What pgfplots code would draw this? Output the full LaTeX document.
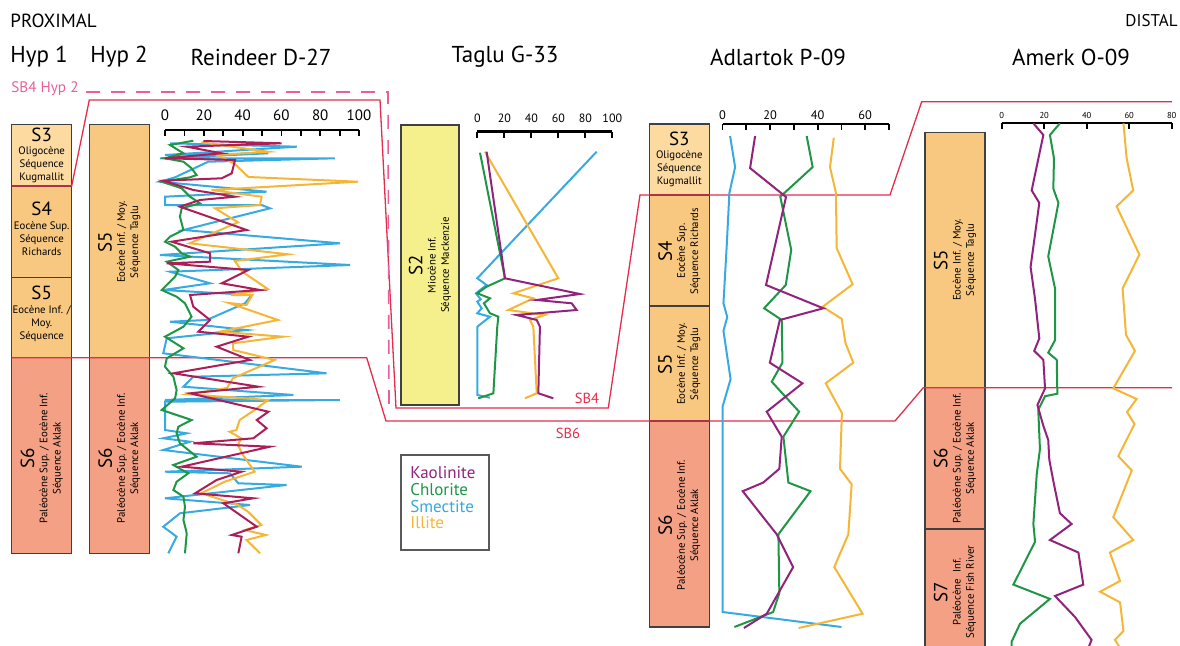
\documentclass[border=0pt]{standalone}
\usepackage{pgfplots}
\pgfplotsset{compat=1.18}
\usepackage{fontspec}
\setmainfont{PT Sans}
\definecolor{kaoR}{RGB}{172,30,88}
\definecolor{kao}{RGB}{145,35,125}
\definecolor{chl}{RGB}{30,150,70}
\definecolor{sme}{RGB}{55,170,225}
\definecolor{ill}{RGB}{245,182,55}
\definecolor{sbred}{RGB}{228,45,75}
\definecolor{sbpink}{RGB}{232,95,155}
\definecolor{sA}{RGB}{252,218,160}
\definecolor{sB}{RGB}{249,200,128}
\definecolor{sC}{RGB}{243,160,132}
\definecolor{sY}{RGB}{246,240,140}
\newcommand{\Sfont}{\fontsize{9.5}{10.5}\selectfont}
\newcommand{\sfont}{\fontsize{5.4}{6.6}\selectfont}
\pgfplotsset{well/.style={scale only axis, anchor=north west,
  axis x line=top, axis y line=none,
  axis line style={-,line width=1.3pt,black},
  x tick style={line width=0.9pt,black},
  tick align=inside, major tick length=3pt, minor tick length=3pt,
  y dir=reverse, clip=false,
  /pgf/number format/assume math mode=true,
  every axis plot/.append style={line width=1pt, no markers}}}
\begin{document}
\begin{tikzpicture}
\useasboundingbox (0,0) rectangle (590pt,-323pt);
\begin{scope}[x=0.5pt,y=-0.5pt]
\tikzset{col/.style={draw=black!75, line width=0.6pt}}
% Hyp 1
\filldraw[col,fill=sA] (11.7,124.3) rectangle (71.7,186);
\filldraw[col,fill=sB] (11.7,186) rectangle (71.7,277.3);
\filldraw[col,fill=sB] (11.7,277.3) rectangle (71.7,357.7);
\filldraw[col,fill=sC] (11.7,357.7) rectangle (71.7,553.3);
% Hyp 2
\filldraw[col,fill=sB] (89.3,124.3) rectangle (149.3,357.7);
\filldraw[col,fill=sC] (89.3,357.7) rectangle (149.3,553.3);
% Taglu
\filldraw[col,fill=sY] (401,125) rectangle (459,405);
% Adlartok
\filldraw[col,fill=sA] (649.3,124) rectangle (709.3,195);
\filldraw[col,fill=sB] (649.3,195) rectangle (709.3,306);
\filldraw[col,fill=sB] (649.3,306) rectangle (709.3,421);
\filldraw[col,fill=sC] (649.3,421) rectangle (709.3,627);
% Amerk
\filldraw[col,fill=sB] (925,132.7) rectangle (985,387.7);
\filldraw[col,fill=sC] (925,387.7) rectangle (985,529);
\filldraw[col,fill=sC] (925,529) rectangle (985,680);
% column texts
\node[align=center,font=\sfont,inner sep=0] at (41.7,155.5) {{\Sfont S3}\\Oligocène\\Séquence\\Kugmallit};
\node[align=center,font=\sfont,inner sep=0] at (41.7,229) {{\Sfont S4}\\Eocène Sup.\\Séquence\\Richards};
\node[align=center,font=\sfont,inner sep=0] at (41.7,314) {{\Sfont S5}\\Eocène Inf. /\\Moy.\\Séquence};
\node[rotate=90,align=center,font=\sfont,inner sep=0] at (41.7,458) {{\Sfont S6}\\Paléocène Sup. / Eocène Inf.\\Séquence Aklak};
\node[rotate=90,align=center,font=\sfont,inner sep=0] at (119.3,242) {{\Sfont S5}\\Eocène Inf. / Moy.\\Séquence Taglu};
\node[rotate=90,align=center,font=\sfont,inner sep=0] at (119.3,458) {{\Sfont S6}\\Paléocène Sup. / Eocène Inf.\\Séquence Aklak};
\node[rotate=90,align=center,font=\sfont,inner sep=0] at (430,265) {{\Sfont S2}\\Miocène Inf.\\Séquence Mackenzie};
\node[align=center,font=\sfont,inner sep=0] at (679.3,159.5) {{\Sfont S3}\\Oligocène\\Séquence\\Kugmallit};
\node[rotate=90,align=center,font=\sfont,inner sep=0] at (679.3,251) {{\Sfont S4}\\Eocène Sup.\\Séquence Richards};
\node[rotate=90,align=center,font=\sfont,inner sep=0] at (679.3,364) {{\Sfont S5}\\Eocène Inf. / Moy.\\Séquence Taglu};
\node[rotate=90,align=center,font=\sfont,inner sep=0] at (679.3,525) {{\Sfont S6}\\Paléocène Sup. / Eocène Inf.\\Séquence Aklak};
\node[rotate=90,align=center,font=\sfont,inner sep=0] at (955,260) {{\Sfont S5}\\Eocène Inf. / Moy.\\Séquence Taglu};
\node[rotate=90,align=center,font=\sfont,inner sep=0] at (955,458) {{\Sfont S6}\\Paléocène Sup. / Eocène Inf.\\Séquence Aklak};
\node[rotate=90,align=center,font=\sfont,inner sep=0] at (955,592) {{\Sfont S7}\\Paléocène\ \ Inf.\\Séquence Fish River};
% sequence boundaries
\draw[sbred,line width=0.65pt] (11.7,186) -- (71.7,186) -- (89.3,100) -- (380,100) -- (396,408) -- (608.3,408) -- (640,195) -- (890,195) -- (921.7,101.7) -- (1172,101.7);
\draw[sbred,line width=0.65pt] (11.7,357.7) -- (366.7,357.7) -- (386,421) -- (895,421) -- (923.3,387.7) -- (1172,387.7);
\draw[sbpink,line width=0.8pt,dash pattern=on 7pt off 5.5pt] (86,92) -- (388,92) -- (389,407);
\node[sbpink,anchor=west,font=\fontsize{7.6}{8}\selectfont,inner sep=0] at (11,89) {SB4 Hyp 2};
\node[sbred,font=\fontsize{7.3}{8}\selectfont,inner sep=0] at (587,398) {SB4};
\node[sbred,font=\fontsize{7.3}{8}\selectfont,inner sep=0] at (568,433) {SB6};
% headers
\node[anchor=west,font=\fontsize{9.5}{10}\selectfont,inner sep=0] at (10,21) {PROXIMAL};
\node[anchor=east,font=\fontsize{8.5}{10}\selectfont,inner sep=0] at (1178,21) {DISTAL};
\foreach \xx/\tt in {39/Hyp 1,119/Hyp 2,261/Reindeer D-27,505/Taglu G-33,778/Adlartok P-09,1071/Amerk O-09}
  \node[font=\fontsize{11.5}{13}\selectfont,inner sep=0] at (\xx,57) {\tt};
% legend
\draw[black!65,line width=0.6pt] (401,455) rectangle (489,550);
\node[anchor=west,kao,font=\fontsize{8.5}{9}\selectfont,inner sep=0] at (410,473) {Kaolinite};
\node[anchor=west,chl,font=\fontsize{8.5}{9}\selectfont,inner sep=0] at (410,490) {Chlorite};
\node[anchor=west,sme,font=\fontsize{8.5}{9}\selectfont,inner sep=0] at (410,507) {Smectite};
\node[anchor=west,ill,font=\fontsize{8.5}{9}\selectfont,inner sep=0] at (410,523) {Illite};
\end{scope}

% Reindeer D-27
\begin{axis}[well, at={(82.5pt,-65pt)}, width=97pt, height=215pt,
  xmin=0, xmax=100, ymin=130, ymax=560,
  xtick={0,20,...,100}, minor xtick={10,30,...,90},
  xticklabel style={font=\fontsize{7.5}{8}\selectfont, yshift=1pt}]
\addplot[sme] coordinates {(2.6,143.3) (67.9,146.7) (0,155) (53.3,153.3) (-2.6,158.3) (87.6,158.3) (22.3,161.7) (5.2,177.3) (-2.6,181.7) (52.4,191.7) (0,196.7) (0,205) (49.8,205) (54.1,208.3) (9.5,230) (90.2,243.3) (-2.6,255) (95.4,265) (2.6,271.7) (23.2,283.3) (-0.9,290) (44.7,295) (41.2,303.3) (21.5,320) (2.6,321.7) (42.1,330) (0.9,338.3) (-0.9,353.3) (83.3,373.3) (14.6,376.7) (9.5,386.7) (66.2,395) (0,400) (90.2,400) (0,401.7) (0,430) (11.2,433.3) (-0.9,438.3) (12.9,441.7) (-0.9,450) (70.5,466.7) (0,471.7) (33.5,473.3) (37.8,483.3) (62.7,485) (0,498.3) (43.8,505) (7.7,513.3) (-0.9,526.7) (6,536.7) (1.7,553.3)};
\addplot[ill] coordinates {(18.7,142.3) (53.1,151.7) (27,155) (36,164) (43,177) (99.5,181.7) (24,190) (49.8,196.7) (49,205) (25.8,208.3) (37.6,222.3) (12.7,243.3) (63.4,254.3) (36,261) (40,272) (53,289) (34,295) (45,295) (42,305) (33,303) (58.2,320) (28.2,331.7) (60.8,336.7) (35,343.3) (35.2,350) (56.5,360) (35,378.3) (32,388) (12,394.3) (53.1,400) (46.2,410) (38.5,420) (36.8,430) (33.3,431.7) (39.3,438.3) (37.6,445) (40.2,455) (46.2,471.7) (30.8,481.7) (18.7,493.3) (37.6,505) (42.8,511.7) (49.7,525) (41.1,530) (52,535) (42,540) (49,553.3)};
\addplot[chl] coordinates {(14.6,140.7) (2.6,145) (9.5,153.3) (0,158.3) (9.5,161.7) (13.7,168.3) (16.3,175) (12.9,177.3) (-1.7,181.7) (8.6,188.3) (12.9,196.7) (18,203.3) (8.6,208.3) (7.7,216.7) (9.5,230) (2.6,236.7) (0,241.7) (5.2,246.7) (8.6,253.3) (12.9,256.7) (0.9,261.7) (6.9,270) (5.2,276.7) (-1.7,290) (6,296.7) (10.3,303.3) (13.7,316.7) (9.5,326.7) (0,336.7) (9.5,348.3) (0.9,358.3) (0,366.7) (4.3,376.7) (6,390) (5.2,398.3) (-1.7,410) (13.7,420) (6.9,426.7) (6,433.3) (7.7,443.3) (16.3,456.7) (4.3,465) (12,473.3) (6,481.7) (4.3,490) (9.5,496.7) (10.3,506.7) (9.5,520) (11.2,533.3) (10.3,553.3)};
\addplot[kaoR] coordinates {(19.8,141) (60.1,143.3) (11.2,146.7) (29.2,153.3) (0,158.3) (36.1,160) (34.4,173.3) (29.2,178.3) (-0.9,180.7) (14.6,190) (36.1,196.7) (18,200) (7.7,206.7) (42.1,230) (3.4,241.7) (23.2,253.3) (23.2,261.7) (0.9,263.3) (43,270) (29.2,283.3) (49,290) (12.9,295) (14.6,306.7) (23.2,320) (17.2,331.7) (43,336.7) (26.6,346.7) (43.8,360) (4.3,373.3) (48.1,386.7) (12.9,393.3) (53.3,411.7) (47.3,420) (52.4,428.3) (45.5,438.3) (14.6,443.3) (54.1,446.7) (8.6,466.7) (39.5,471.7) (26.6,480) (15.5,493.3) (45.5,498.3) (30.1,503.3) (47.3,526.7) (34.4,535) (39.5,536.7) (37.8,553.3)};
\end{axis}

% Taglu G-33
\begin{axis}[well, at={(238.65pt,-65.85pt)}, width=67.5pt, height=136.65pt,
  xmin=0, xmax=100, ymin=131.7, ymax=405,
  xtick={0,20,...,100},
  xticklabel style={font=\fontsize{6}{7}\selectfont, yshift=0.8pt}]
\addplot[sme] coordinates {(88.4,151.7) (0,278.3) (6.9,285) (-1,293.3) (2.5,299.3) (0,301.7) (3.2,308.3) (0,313.3) (9.4,316.7) (0,326.7) (0,395) (9.4,397.7)};
\addplot[ill] coordinates {(5.7,151.7) (60,278.3) (26.7,293.3) (41.5,298.3) (23,310) (50,315) (39,320) (41.5,326.7) (44,393.3) (35.3,398.3)};
\addplot[chl] coordinates {(2,152.7) (20.5,278.3) (6.9,286.7) (0,293.3) (9.4,298.3) (4.9,303.3) (9.4,313.3) (15.6,316.7) (14.8,326.7) (11.9,393.3) (0.7,398.3)};
\addplot[kao] coordinates {(6.9,151.7) (20.5,278.3) (76,294) (44,300) (69.9,303.3) (73.6,310) (29.1,315) (44,320) (46.4,326.7) (45.2,393.3) (56.3,398.3)};
\end{axis}

% Adlartok P-09
\begin{axis}[well, at={(361.25pt,-62pt)}, width=83.25pt, height=253pt,
  xmin=0, xmax=70, ymin=124, ymax=630,
  xtick={0,20,40,60}, minor xtick={10,30,50,70},
  xticklabel style={font=\fontsize{6.2}{7}\selectfont, yshift=-1.5pt}]
\addplot[sme] coordinates {(3.2,136.1) (5.3,167.1) (2.9,193) (1.8,244.7) (0.4,303.3) (2,317.1) (0.4,330.9) (3.4,379.2) (0,406.8) (0,612) (50,627)};
\addplot[ill] coordinates {(46.8,137.8) (45.2,167.1) (47.7,193) (48,248.1) (54.7,284.3) (42.1,306.8) (50.1,318.8) (51.7,343) (55,362.7) (43.4,383.3) (50.2,413) (49.4,468.8) (54.3,484.3) (52.9,534.3) (47,567.1) (58.9,613.7) (32,628)};
\addplot[chl] coordinates {(35.4,136.1) (37.9,167.1) (24.3,196.7) (28.9,250) (26.6,285) (17.5,308.3) (24.9,320) (25.2,362.7) (20.7,381.7) (32.2,411.7) (25.6,436.7) (27.7,482.6) (37,491.2) (23.5,534.3) (23.9,593) (21.3,612) (5,627)};
\addplot[kao] coordinates {(13.7,136.1) (11.6,168.1) (26.7,197) (18.3,285) (42.4,308.3) (24.1,320) (19.9,362.7) (33.6,383.3) (18.6,411.7) (24.9,436.7) (23.9,468.8) (17.1,482.6) (8.5,491.2) (22.8,534.3) (29.7,567.1) (18.6,613.7) (9,628)};
\end{axis}

% Amerk O-09
\begin{axis}[well, at={(500.85pt,-61.5pt)}, width=85pt, height=261.5pt,
  xmin=0, xmax=80, ymin=123, ymax=646, clip=true,
  xtick={0,20,...,80},
  xticklabel style={font=\fontsize{4.3}{5}\selectfont, yshift=-1.5pt}]
\addplot[ill] coordinates {(57.3,123.3) (58.8,158.3) (61.9,190.4) (54.1,206.4) (64.8,254.6) (56.9,288.5) (58.5,334.9) (62.7,350.9) (52.5,388.4) (63.5,399) (59,412) (62.5,424) (54.9,456.2) (61.2,470.4) (52.5,517.2) (61.9,540) (50.9,552.5) (55.7,581) (46.3,591.7) (55.7,602.4) (57.3,631) (53.3,639.9) (57,652)};
\addplot[chl] coordinates {(27.4,123.3) (22.7,135) (24.6,158.3) (24.3,188.6) (26.7,202.9) (21.9,256.4) (25.1,288.5) (25.1,340.2) (21.9,352.7) (25.9,359.8) (26.2,393.7) (20.4,396.2) (17.2,409.8) (18,449) (16.5,474) (14.9,523.9) (15.7,541.7) (5.5,584.6) (22.7,598.9) (8.6,623.8) (4.7,641.6) (4.7,652)};
\addplot[kao] coordinates {(14.9,123.3) (19.6,135) (14.1,190.4) (17.7,202.9) (13.6,267) (15.7,299.2) (17.7,338.4) (15.3,350.9) (19.6,359.8) (20.4,388.4) (16.8,405) (19.6,425.8) (21.9,440) (22.4,459.7) (24.3,481.1) (27.4,513.2) (32.9,524) (22.7,540) (36.1,552.5) (38.4,584.6) (25.1,596) (34.5,617) (42.3,639.9) (40,652)};
\end{axis}
\end{tikzpicture}
\end{document}
